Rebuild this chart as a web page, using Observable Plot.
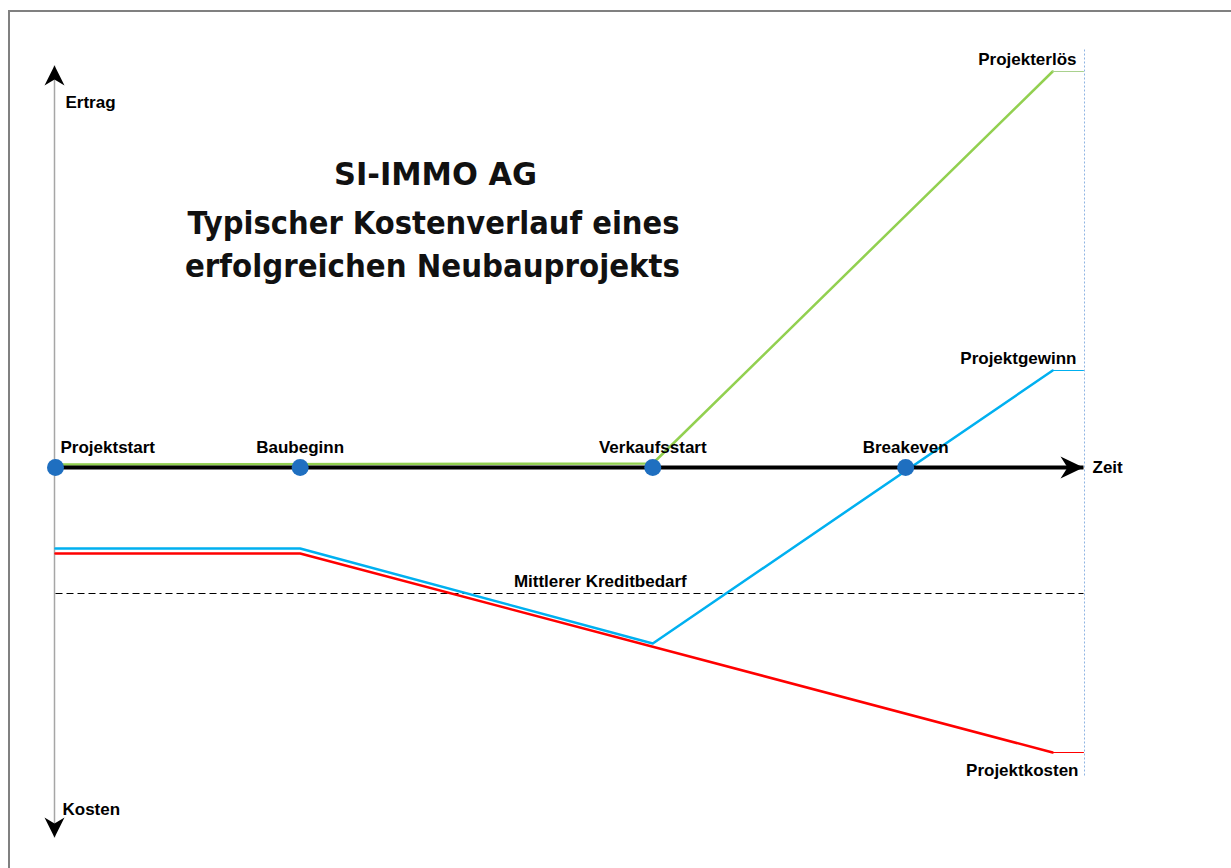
<!DOCTYPE html>
<html><head><meta charset="utf-8">
<script src="https://cdn.jsdelivr.net/npm/d3@7"></script>
<script src="https://cdn.jsdelivr.net/npm/@observablehq/plot@0.6"></script>
<style>
html,body{margin:0;padding:0;background:#fff;}
#wrap{position:relative;width:1231px;height:868px;overflow:hidden;}
#frame{position:absolute;left:8px;top:10px;right:-4px;bottom:-4px;border-top:2px solid #808080;border-left:2px solid #808080;pointer-events:none;}
svg{display:block;}
</style></head><body><div id="wrap"><div id="frame"></div></div>
<script>
// Meilensteine (Zeitachse 0..100)
const milestones = ["Projektstart", "Baubeginn", "Verkaufsstart", "Breakeven"];
const milestoneTime = [0, 23.8, 58.1, 82.7];

// Serien (Zeit, Wert)
const erloesTime = [0, 58.1, 97];
const erloesValue = [0.75, 1, 99];
const gewinnTime = [0, 23.8, 58.1, 97];
const gewinnValue = [-20.25, -20.25, -44, 24.25];
const kostenTime = [0, 23.8, 97];
const kostenValue = [-21.5, -21.5, -71.25];
const kreditbedarf = -31.5;
const kreditLabelTime = 53;

const endTime = 97;
const axisEnd = 100;
const axisTop = 100.5;
const axisBottom = -92.5;
const guideTop = 104.75;
const guideBottom = -77;

const seriesNames = ["Projekterlös", "Projektgewinn", "Projektkosten"];
const titleLines = ["SI-IMMO AG", "Typischer Kostenverlauf eines", "erfolgreichen Neubauprojekts"];

const toRows = (ts, vs) => ts.map((t, i) => ({t, v: vs[i]}));
const erloes = toRows(erloesTime, erloesValue);
const gewinn = toRows(gewinnTime, gewinnValue);
const kosten = toRows(kostenTime, kostenValue);
const tail = (rows) => [{t: endTime, v: rows[rows.length - 1].v}, {t: axisEnd, v: rows[rows.length - 1].v}];
const ms = milestones.map((name, i) => ({name, t: milestoneTime[i]}));

const labelFont = {fontFamily: "Liberation Sans, Arial, sans-serif", fontWeight: "bold", fontSize: 17, fill: "#000"};
const titleFont = {fontFamily: "DejaVu Sans, sans-serif", fontWeight: "bold", fontSize: 32, fill: "#111"};

const svg = Plot.plot({
  width: 1231,
  height: 868,
  margin: 0,
  x: {domain: [0, 100], range: [55, 1083], axis: null},
  y: {domain: [-100.25, 116.75], range: [868, 0], axis: null},
  style: {background: "transparent", fontFamily: "Liberation Sans, Arial, sans-serif"},
  marks: [
    // vertical axis
    Plot.link([{t: 0, a: 0, b: axisTop}], {x1: "t", x2: "t", y1: "a", y2: "b", stroke: "#a6a6a6", strokeWidth: 1.5, dx: -1, ariaDescription: "vaxis"}),
    Plot.link([{t: 0, a: 0, b: axisBottom}], {x1: "t", x2: "t", y1: "a", y2: "b", stroke: "#a6a6a6", strokeWidth: 1.5, dx: -1, ariaDescription: "vaxis"}),
    // guide at end
    Plot.link([{t: axisEnd, a: guideBottom, b: guideTop}], {x1: "t", x2: "t", y1: "a", y2: "b", stroke: "#8eb4e3", strokeWidth: 1, strokeDasharray: "2,2", dx: 1}),
    // dashed credit line
    Plot.link([{a: 0, b: axisEnd, v: kreditbedarf}], {x1: "a", x2: "b", y1: "v", y2: "v", stroke: "#000", strokeWidth: 1, strokeDasharray: "7,4"}),
    // series
    Plot.line(kosten, {x: "t", y: "v", stroke: "#ff0000", strokeWidth: 2.5}),
    Plot.line(tail(kosten), {x: "t", y: "v", stroke: "#ff0000", strokeWidth: 1}),
    Plot.line(gewinn, {x: "t", y: "v", stroke: "#00b0f0", strokeWidth: 2.5}),
    Plot.line(tail(gewinn), {x: "t", y: "v", stroke: "#00b0f0", strokeWidth: 1}),
    Plot.line(erloes, {x: "t", y: "v", stroke: "#92d050", strokeWidth: 2.5}),
    Plot.line(tail(erloes), {x: "t", y: "v", stroke: "#a9d18e", strokeWidth: 1}),
    // time axis
    Plot.link([{a: 0, b: axisEnd, v: 0}], {x1: "a", x2: "b", y1: "v", y2: "v", stroke: "#000", strokeWidth: 4, ariaDescription: "haxis"}),
    // milestones
    Plot.dot(ms, {x: "t", y: () => 0, r: 8.5, fill: "#1f6fc0"}),
    Plot.text(ms.slice(0, 1), {x: "t", y: () => 0, text: "name", textAnchor: "start", lineAnchor: "bottom", dx: 5, dy: -15, ...labelFont}),
    Plot.text(ms.slice(1), {x: "t", y: () => 0, text: "name", textAnchor: "middle", lineAnchor: "bottom", dy: -15, ...labelFont}),
    // axis labels
    Plot.text(["Zeit"], {x: () => axisEnd, y: () => 0, text: d => d, textAnchor: "start", lineAnchor: "middle", dx: 9, ...labelFont}),
    Plot.text(["Ertrag"], {x: () => 0, y: () => axisTop, text: d => d, textAnchor: "start", lineAnchor: "bottom", dx: 10, dy: 42, ...labelFont}),
    Plot.text(["Kosten"], {x: () => 0, y: () => axisBottom, text: d => d, textAnchor: "start", lineAnchor: "bottom", dx: 7, dy: -23, ...labelFont}),
    // series labels
    Plot.text([{n: seriesNames[0], v: erloesValue[erloesValue.length - 1]}, {n: seriesNames[1], v: gewinnValue[gewinnValue.length - 1]}],
      {x: () => axisEnd, y: "v", text: "n", textAnchor: "end", lineAnchor: "bottom", dx: -7, dy: -7, ...labelFont}),
    Plot.text([{n: seriesNames[2], v: kostenValue[kostenValue.length - 1]}],
      {x: () => axisEnd, y: "v", text: "n", textAnchor: "end", lineAnchor: "bottom", dx: -5, dy: 23, ...labelFont}),
    Plot.text([{n: "Mittlerer Kreditbedarf", t: kreditLabelTime, v: kreditbedarf}],
      {x: "t", y: "v", text: "n", textAnchor: "middle", lineAnchor: "bottom", dy: -7, ...labelFont}),
    // title
    Plot.text([titleLines[0]], {text: d => d, frameAnchor: "top-left", dx: 435, dy: 184, textAnchor: "middle", lineAnchor: "bottom", ...titleFont, ariaDescription: "title-1"}),
    Plot.text([titleLines[1]], {text: d => d, frameAnchor: "top-left", dx: 433, dy: 233, textAnchor: "middle", lineAnchor: "bottom", ...titleFont, ariaDescription: "title-2"}),
    Plot.text([titleLines[2]], {text: d => d, frameAnchor: "top-left", dx: 432, dy: 276, textAnchor: "middle", lineAnchor: "bottom", ...titleFont, ariaDescription: "title-3"})
  ]
});

// arrowheads
const root = d3.select(svg);
const defs = root.insert("defs", ":first-child");
function addMarker(id, len, half, notch) {
  defs.append("marker")
    .attr("id", id)
    .attr("markerUnits", "userSpaceOnUse")
    .attr("orient", "auto")
    .attr("viewBox", `${-len - 1} ${-half - 1} ${len + 2} ${2 * half + 2}`)
    .attr("markerWidth", len + 2)
    .attr("markerHeight", 2 * half + 2)
    .attr("refX", 0).attr("refY", 0)
    .append("path")
    .attr("d", `M0,0L${-len},${-half}L${-notch},0L${-len},${half}Z`)
    .attr("fill", "#000")
    .attr("stroke", "none");
}
addMarker("arrowH", 23, 11, 16);
addMarker("arrowV", 20, 10, 14);
root.selectAll('g[aria-description="haxis"] path').attr("marker-end", "url(#arrowH)");
root.selectAll('g[aria-description="vaxis"] path').attr("marker-end", "url(#arrowV)");
root.select('g[aria-description="title-1"] text').attr("textLength", 203).attr("lengthAdjust", "spacingAndGlyphs");
root.select('g[aria-description="title-2"] text').attr("textLength", 492).attr("lengthAdjust", "spacingAndGlyphs");
root.select('g[aria-description="title-3"] text').attr("textLength", 495).attr("lengthAdjust", "spacingAndGlyphs");

document.getElementById("wrap").prepend(svg);
</script>
</body></html>
